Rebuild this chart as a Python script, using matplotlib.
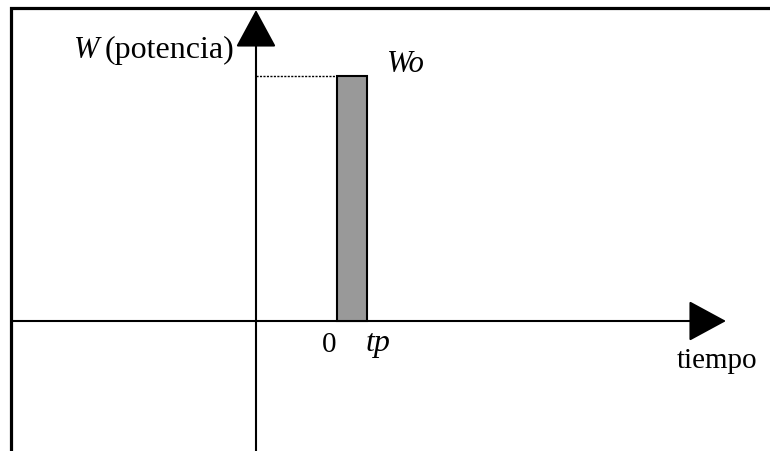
import matplotlib.pyplot as plt

plt.rcParams['font.family'] = ['Liberation Serif', 'DejaVu Serif']

# pulse data
t_start = 0.0
tp = 1.0
Wo = 1.0
tick_labels = ['0', 'tp']

W, H = 770, 451
# pixel -> data mapping (layout only)
X0_PX, SX = 337, 30.0    # t = 0 at px 337, 30 px per unit of t
Y0_PX, SY = 321, 245.0   # w = 0 at px 321, 245 px per unit of w


def tx(px):
    return (px - X0_PX) / SX


def wy(py):
    return (Y0_PX - py) / SY


def main():
    fig = plt.figure(figsize=(W / 100, H / 100), dpi=100)
    ax = fig.add_axes([0, 0, 1, 1])
    ax.set_xlim(tx(0), tx(W))
    ax.set_ylim(wy(H), wy(0))
    ax.axis('off')

    # frame (top and left edges)
    ax.plot([10.5 / W, 10.5 / W, 1], [0, 1 - 7.5 / H, 1 - 7.5 / H], color='black',
            lw=2.3, transform=ax.transAxes, solid_capstyle='butt',
            solid_joinstyle='miter')

    # axes with arrows
    t_axis = tx(256)
    arrow = dict(arrowstyle='-|>,head_length=2.4,head_width=1.3', color='black',
                 lw=1.5, mutation_scale=10, shrinkA=0, shrinkB=0)
    ax.annotate('', xy=(t_axis, wy(10)), xytext=(t_axis, wy(H)), arrowprops=arrow)
    ax.annotate('', xy=(tx(726), 0), xytext=(tx(13), 0), arrowprops=arrow)

    # pulse
    ax.bar(t_start, Wo, width=tp - t_start, align='edge', color='#999999',
           edgecolor='black', lw=1.5, zorder=3)
    ax.plot([t_axis, t_start], [Wo, Wo], color='black', lw=1, ls=(0, (1.5, 1)))

    ax.text(tx(234), wy(58), '(potencia)', fontsize=23, ha='right', va='baseline')
    ax.text(tx(99), wy(58), 'W', fontsize=22, style='italic', ha='right', va='baseline')
    ax.text(tx(387), wy(72), 'Wo', fontsize=22, style='italic', ha='left', va='baseline')
    ax.text(tx(329), wy(352), tick_labels[0], fontsize=21, ha='center', va='baseline')
    ax.text(tx(366), wy(351), tick_labels[1], fontsize=23, style='italic', ha='left', va='baseline')
    ax.text(tx(677), wy(368), 'tiempo', fontsize=21, ha='left', va='baseline')

    fig.savefig('out.png', dpi=100)


if __name__ == '__main__':
    main()
